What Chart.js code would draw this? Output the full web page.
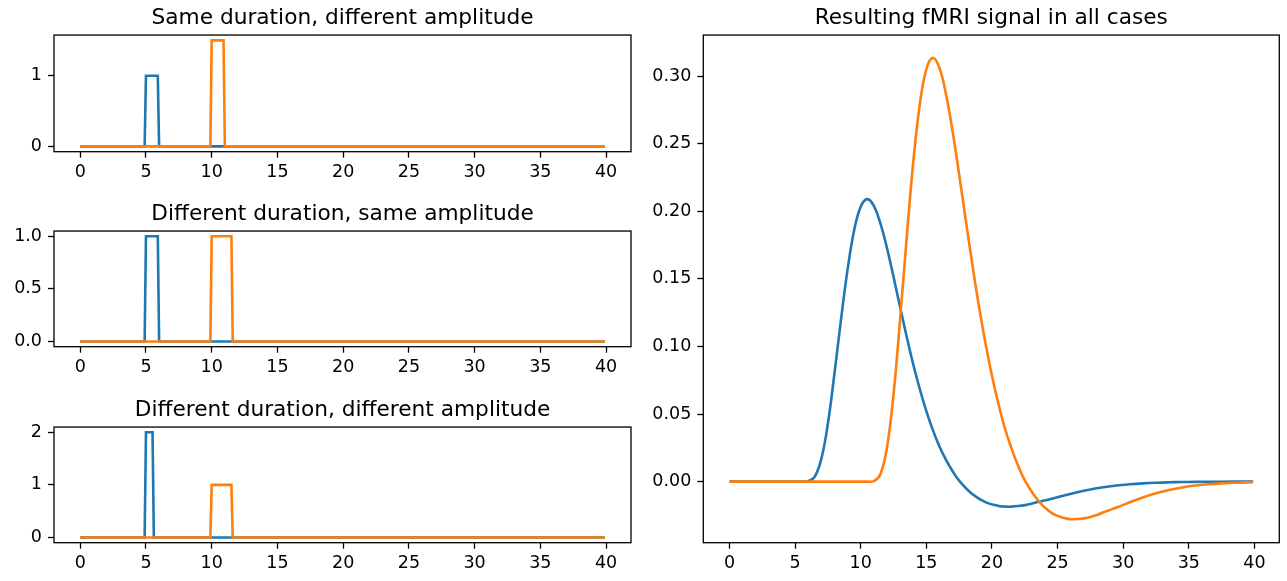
<!DOCTYPE html>
<html>
<head>
<meta charset="utf-8">
<script src="https://cdn.jsdelivr.net/npm/chart.js@4.4.1/dist/chart.umd.min.js"></script>
<style>
  html, body { margin: 0; padding: 0; background: #fff; }
  #wrap { position: relative; width: 1287px; height: 581px; overflow: hidden; }
  canvas { position: absolute; }
</style>
</head>
<body>
<div id="wrap">
  <canvas id="p1" width="640" height="190" style="left:0;top:0"></canvas>
  <canvas id="p2" width="640" height="190" style="left:0;top:196px"></canvas>
  <canvas id="p3" width="640" height="190" style="left:0;top:392px"></canvas>
  <canvas id="fmri" width="647" height="581" style="left:640px;top:0"></canvas>
</div>
<script>
const BLUE = "#1f77b4";
const ORANGE = "#ff7f0e";

const xTicks = [0, 5, 10, 15, 20, 25, 30, 35, 40];

// stimulus pulses (time, amplitude)
const sameDurTime1 = [0, 4.9, 5.0, 5.9, 6.0, 39.9];
const sameDurAmp1 = [0, 0, 1, 1, 0, 0];
const sameDurTime2 = [0, 9.9, 10.0, 10.9, 11.0, 39.9];
const sameDurAmp2 = [0, 0, 1.5, 1.5, 0, 0];

const diffDurTime1 = [0, 4.9, 5.0, 5.9, 6.0, 39.9];
const diffDurAmp1 = [0, 0, 1, 1, 0, 0];
const diffDurTime2 = [0, 9.9, 10.0, 11.5, 11.6, 39.9];
const diffDurAmp2 = [0, 0, 1, 1, 0, 0];

const diffBothTime1 = [0, 4.9, 5.0, 5.5, 5.6, 39.9];
const diffBothAmp1 = [0, 0, 2, 2, 0, 0];
const diffBothTime2 = [0, 9.9, 10.0, 11.5, 11.6, 39.9];
const diffBothAmp2 = [0, 0, 1, 1, 0, 0];

// resulting fMRI signal
const fmriTime1 = [0, 5.5, 6.0, 6.5, 7.0, 7.5, 8.0, 8.5, 9.0, 9.5, 10.0, 10.5, 11.0, 11.5,
  12.0, 12.5, 13.0, 13.5, 14.0, 14.5, 15.0, 15.5, 16.0, 16.5, 17.0, 17.5, 18.5, 19.5,
  20.5, 21.0, 21.5, 22.0, 22.5, 23.0, 23.5, 24.0, 24.5, 25.5, 26.5, 27.5, 28.5, 29.5, 30.5,
  31.5, 32.5, 33.5, 34.5, 35.5, 37.5, 39.9];
const fmriSignal1 = [0, 0, 0.0002, 0.0037, 0.0168, 0.043, 0.080, 0.120, 0.157, 0.186, 0.2034,
  0.209, 0.204, 0.191, 0.1728, 0.1515, 0.1292, 0.1073, 0.0868, 0.0685, 0.0522, 0.0381,
  0.026, 0.0161, 0.0077, 0.0007, -0.0092, -0.0152, -0.0180, -0.0185, -0.0185, -0.0181,
  -0.0174, -0.0164, -0.0151, -0.0140, -0.0128, -0.0102, -0.0078, -0.0058, -0.0042,
  -0.0029, -0.0020, -0.0013, -0.0008, -0.0005, -0.0003, -0.0002, -0.0001, 0];

const fmriTime2 = [0, 10.5, 11.0, 11.5, 12.0, 12.5, 13.0, 13.5, 14.0, 14.5, 15.0, 15.5, 16.0,
  16.5, 17.0, 17.5, 18.0, 18.5, 19.0, 19.5, 20.0, 20.5, 21.0, 21.5, 22.0, 22.5, 23.5, 24.5,
  25.5, 26.0, 26.5, 27.0, 27.5, 28.0, 28.5, 29.0, 29.5, 30.5, 31.5, 32.5, 33.5, 34.5, 35.5,
  36.5, 37.5, 38.5, 39.9];
const fmriSignal2 = [0, 0, 0.0003, 0.0055, 0.0252, 0.0645, 0.120, 0.180, 0.236, 0.279, 0.3051,
  0.3135, 0.306, 0.2865, 0.2592, 0.2273, 0.1938, 0.161, 0.1302, 0.1028, 0.0783, 0.0572,
  0.039, 0.0242, 0.0116, 0.001, -0.0138, -0.0229, -0.0270, -0.0278, -0.0277, -0.0272,
  -0.0261, -0.0247, -0.0227, -0.0209, -0.0192, -0.0153, -0.0117, -0.0087, -0.0062,
  -0.0043, -0.0029, -0.0020, -0.0013, -0.0008, -0.0004];

const toPoints = (xs, ys) => xs.map((x, i) => ({ x: x, y: ys[i] }));

Chart.defaults.font.family = "'DejaVu Sans', sans-serif";
Chart.defaults.color = "#000";
Chart.defaults.animation = false;

// matplotlib style box round the plot area, title centred over it
const framePlugin = {
  id: "frame",
  afterLayout(chart) {
    const t = chart.titleBlock;
    if (t) {
      t.left = chart.chartArea.left;
      t.right = chart.chartArea.right;
      t.width = t.right - t.left;
    }
  },
  afterDraw(chart) {
    const { ctx, chartArea: a } = chart;
    ctx.save();
    ctx.strokeStyle = "#000";
    ctx.lineWidth = 1.3;
    ctx.strokeRect(a.left, a.top, a.right - a.left, a.bottom - a.top);
    ctx.restore();
  },
};

function makeChart(id, o) {
  const line = (xs, ys, color, order) => ({
    data: toPoints(xs, ys),
    borderColor: color,
    borderWidth: 2.6,
    pointRadius: 0,
    tension: o.smooth ? 0.4 : 0,
    order: order,
  });
  return new Chart(document.getElementById(id), {
    type: "line",
    data: {
      datasets: [line(o.t1, o.v1, BLUE, 1), line(o.t2, o.v2, ORANGE, 0)],
    },
    options: {
      responsive: false,
      layout: { padding: { left: 0, right: o.padRight, top: 0, bottom: 0 } },
      plugins: {
        legend: { display: false },
        tooltip: { enabled: false },
        title: {
          display: true,
          text: o.title,
          font: { size: 21.7, weight: "normal", lineHeight: 1.2 },
          padding: { top: 5, bottom: 4 },
        },
      },
      scales: {
        x: {
          type: "linear",
          min: -1.995,
          max: 41.895,
          afterBuildTicks: (s) => { s.ticks = xTicks.map((v) => ({ value: v })); },
          afterFit: (s) => { s.height = o.xAxisH; },
          grid: { drawOnChartArea: false, tickLength: 6, tickWidth: 1.3, tickColor: "#000" },
          border: { display: false },
          ticks: { font: { size: 17.5 }, padding: 4, maxRotation: 0, callback: (v) => String(v) },
        },
        y: {
          min: o.yMin,
          max: o.yMax,
          afterBuildTicks: (s) => { s.ticks = o.yTicks.map((v) => ({ value: v })); },
          afterFit: (s) => { s.width = o.yAxisW; },
          grid: { drawOnChartArea: false, tickLength: 6, tickWidth: 1.3, tickColor: "#000" },
          border: { display: false },
          ticks: { font: { size: 17.5 }, padding: 6, callback: (v) => v.toFixed(o.dec) },
        },
      },
    },
    plugins: [framePlugin],
  });
}

makeChart("p1", {
  title: "Same duration, different amplitude",
  t1: sameDurTime1, v1: sameDurAmp1, t2: sameDurTime2, v2: sameDurAmp2,
  yMin: -0.075, yMax: 1.575, yTicks: [0, 1], dec: 0,
  yAxisW: 54, xAxisH: 38.3, padRight: 9,
});
makeChart("p2", {
  title: "Different duration, same amplitude",
  t1: diffDurTime1, v1: diffDurAmp1, t2: diffDurTime2, v2: diffDurAmp2,
  yMin: -0.05, yMax: 1.05, yTicks: [0, 0.5, 1], dec: 1,
  yAxisW: 54, xAxisH: 39.3, padRight: 9,
});
makeChart("p3", {
  title: "Different duration, different amplitude",
  t1: diffBothTime1, v1: diffBothAmp1, t2: diffBothTime2, v2: diffBothAmp2,
  yMin: -0.1, yMax: 2.1, yTicks: [0, 1, 2], dec: 0,
  yAxisW: 54, xAxisH: 39.3, padRight: 9,
});
makeChart("fmri", {
  title: "Resulting fMRI signal in all cases",
  t1: fmriTime1, v1: fmriSignal1, t2: fmriTime2, v2: fmriSignal2,
  yMin: -0.0452, yMax: 0.3304, yTicks: [0, 0.05, 0.1, 0.15, 0.2, 0.25, 0.3], dec: 2,
  yAxisW: 63.3, xAxisH: 38.3, padRight: 7.7, smooth: true,
});
</script>
</body>
</html>
